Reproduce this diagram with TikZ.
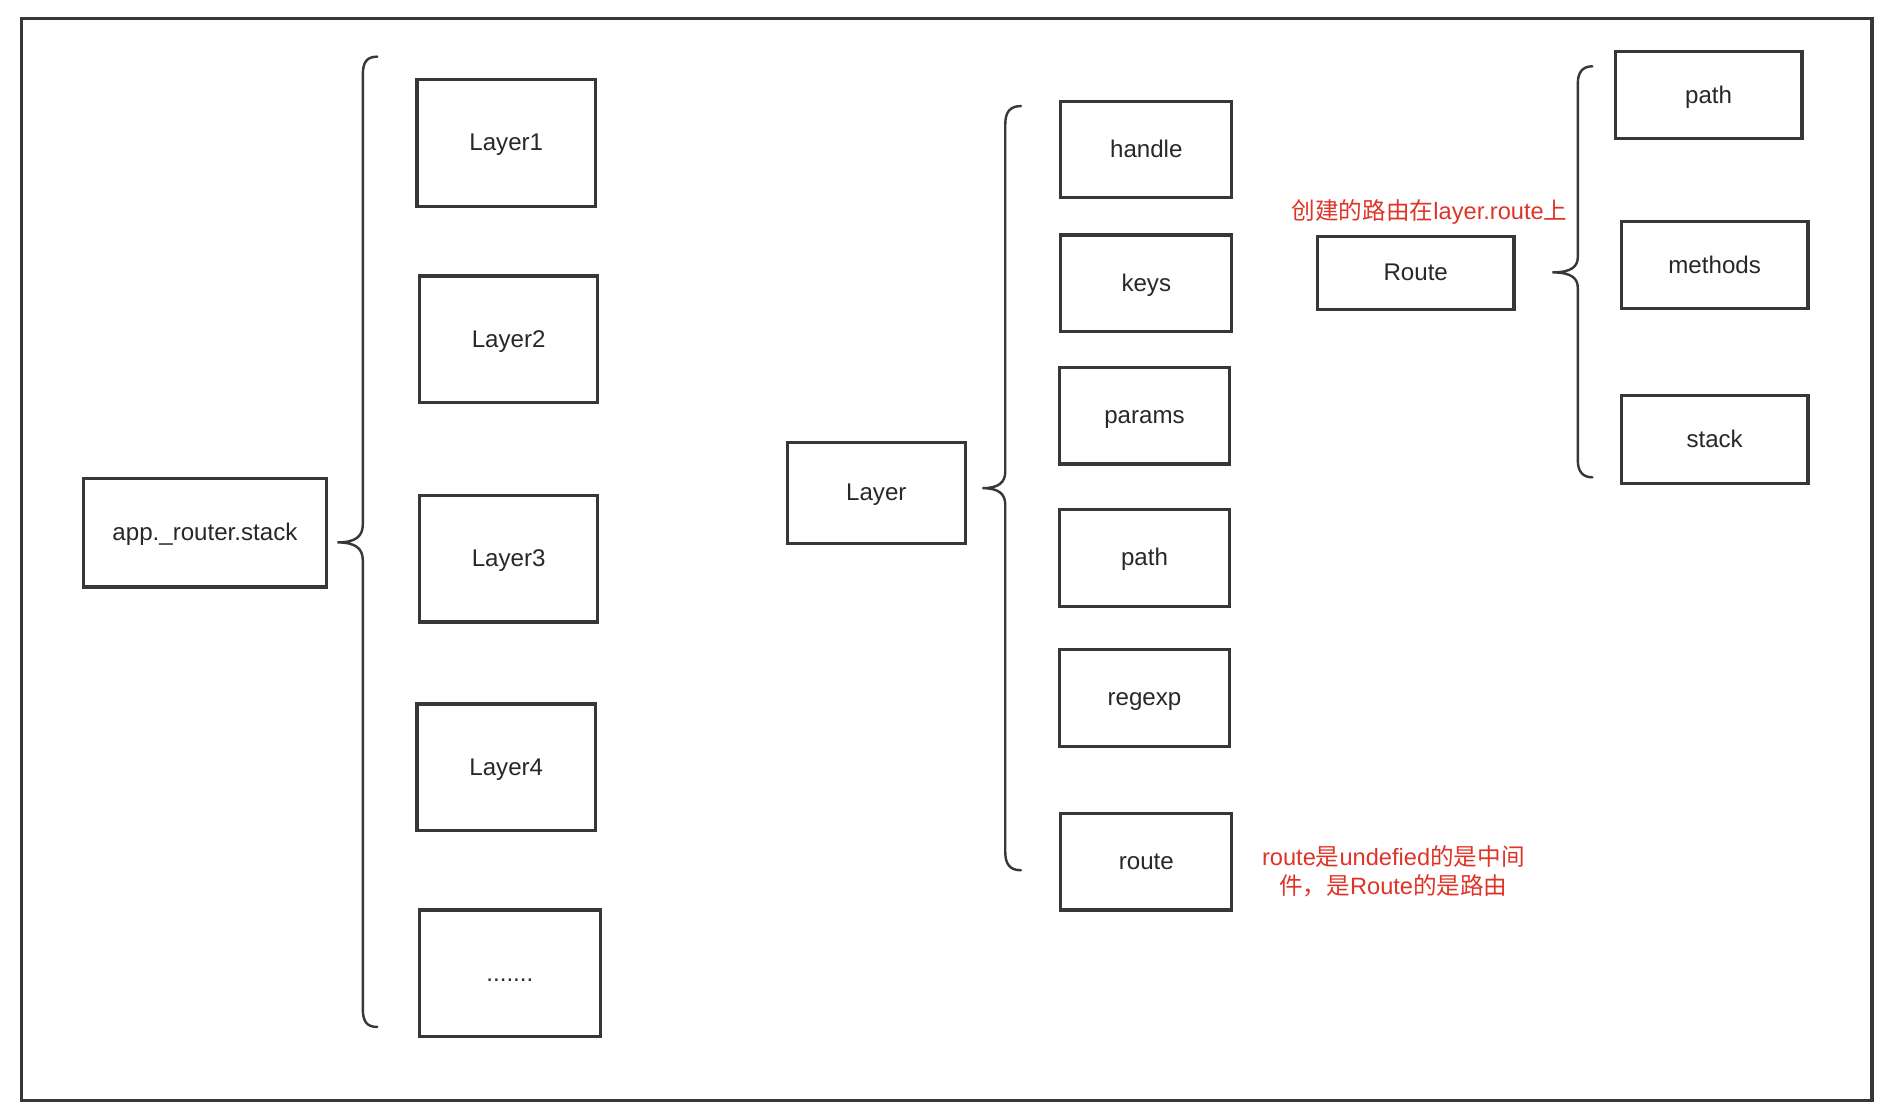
\documentclass[tikz,border=0pt]{standalone}
\usepackage{fontspec}
\setmainfont{Liberation Sans}
\newfontfamily\cjk{Noto Sans CJK SC}
\definecolor{linegray}{RGB}{55,55,55}
\definecolor{textgray}{RGB}{40,40,40}
\definecolor{notered}{RGB}{222,52,40}
\begin{document}
\begin{tikzpicture}[x=1pt,y=-1pt,
  box/.style={draw=linegray, line width=2.6pt, fill=white, inner sep=0pt,
    text height=14pt, text depth=1pt,
    font=\fontsize{20}{24}\selectfont, text=textgray},
  bracepath/.style={draw=linegray, line width=2pt, line cap=round},
  note/.style={text=notered, font=\fontsize{19.6}{24}\selectfont, inner sep=0pt, align=center}]
\useasboundingbox (0,0) rectangle (1568,923);
\draw[draw=linegray, line width=2.6pt] (18,15) rectangle (1553,913);

% left column
\node[box, minimum width=202pt, minimum height=90pt] (app) at (170,442) {app.\_router.stack};
\node[box, minimum width=148pt, minimum height=105pt] (l1) at (420,118.5) {Layer1};
\node[box, minimum width=148pt, minimum height=105pt] (l2) at (422,281.5) {Layer2};
\node[box, minimum width=148pt, minimum height=105pt] (l3) at (422,463.5) {Layer3};
\node[box, minimum width=148pt, minimum height=105pt] (l4) at (420,636.5) {Layer4};
\node[box, minimum width=150pt, minimum height=105pt] (ldots) at (423,807.5) {.......};

% brace 1
\coordinate (b1tip) at (280,450);
\draw[bracepath] (313,47) .. controls (304,47) and (301,52) .. (301,62) -- (301,435)
  .. controls (301,445) and (295,450) .. (b1tip)
  .. controls (295,450) and (301,455) .. (301,465) -- (301,837)
  .. controls (301,847) and (304,852) .. (313,852);

% middle column
\node[box, minimum width=148pt, minimum height=84pt] (layer) at (727,409) {Layer};
\node[box, minimum width=142pt, minimum height=80pt] (handle) at (951,124) {handle};
\node[box, minimum width=142pt, minimum height=80pt] (keys) at (951,235) {keys};
\node[box, minimum width=141pt, minimum height=80pt] (params) at (949.5,345) {params};
\node[box, minimum width=141pt, minimum height=80pt] (path) at (949.5,463) {path};
\node[box, minimum width=141pt, minimum height=80pt] (regexp) at (949.5,579) {regexp};
\node[box, minimum width=142pt, minimum height=80pt] (route) at (951,715) {route};

% brace 2
\coordinate (b2tip) at (815,405);
\draw[bracepath] (847,88) .. controls (838,88) and (834,93) .. (834,103) -- (834,391)
  .. controls (834,400) and (829,405) .. (b2tip)
  .. controls (829,405) and (834,410) .. (834,419) -- (834,707)
  .. controls (834,717) and (838,722) .. (847,722);

% right part
\node[box, minimum width=163pt, minimum height=61pt] (Route) at (1174.5,226.5) {Route};
\node[note, anchor=south] (note1) at (1186,186) {{\cjk 创建的路由在}layer.route{\cjk 上}};
\node[box, minimum width=155pt, minimum height=72pt] (rpath) at (1417.5,79) {path};
\node[box, minimum width=155pt, minimum height=72pt] (methods) at (1422.5,220) {methods};
\node[box, minimum width=155pt, minimum height=73pt] (stack) at (1422.5,364.5) {stack};

% brace 3
\coordinate (b3tip) at (1288,226);
\draw[bracepath] (1321,55) .. controls (1313,55) and (1309,60) .. (1309,69) -- (1309,213)
  .. controls (1309,221) and (1304,226) .. (b3tip)
  .. controls (1304,226) and (1309,231) .. (1309,239) -- (1309,382)
  .. controls (1309,391) and (1313,396) .. (1321,396);

\node[note] (note2) at (1156,723) {route{\cjk 是}undefied{\cjk 的是中间}\\{\cjk 件，是}Route{\cjk 的是路由}};
\end{tikzpicture}
\end{document}
